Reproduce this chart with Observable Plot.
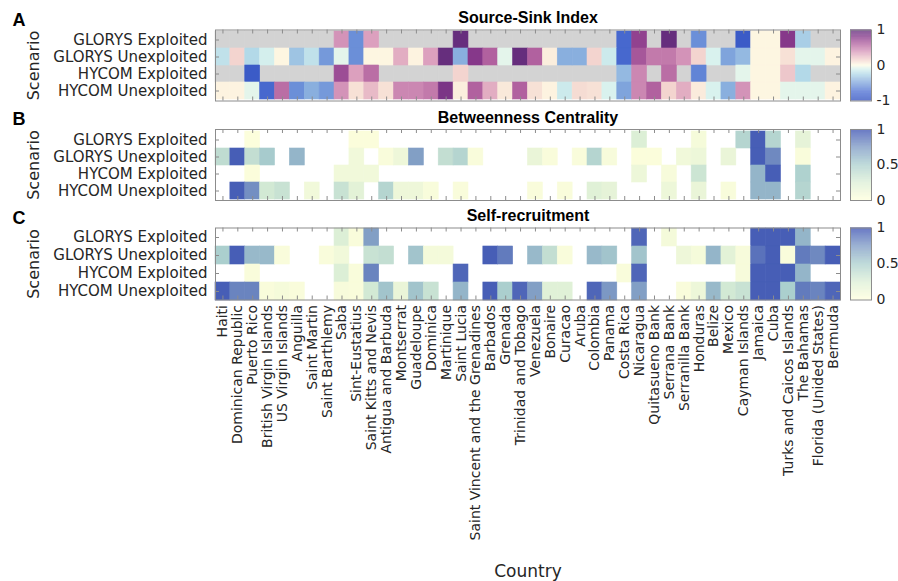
<!DOCTYPE html>
<html>
<head>
<meta charset="utf-8">
<script src="https://cdn.jsdelivr.net/npm/d3@7"></script>
<script src="https://cdn.jsdelivr.net/npm/@observablehq/plot@0.6"></script>
<style>
  body { margin: 0; background: #fff; }
  #chart { position: relative; width: 898px; height: 581px; overflow: hidden; font-family: "DejaVu Sans", sans-serif; }
  #chart svg { position: absolute; }
</style>
</head>
<body>
<div id="chart"></div>
<script>
// Countries along the x axis, west-to-east ordering used in the connectivity study
const countries = [
  "Haiti", "Dominican Republic", "Puerto Rico", "British Virgin Islands", "US Virgin Islands",
  "Anguilla", "Saint Martin", "Saint Barthlemy", "Saba", "Sint-Eustatius",
  "Saint Kitts and Nevis", "Antigua and Barbuda", "Montserrat", "Guadeloupe", "Dominica",
  "Martinique", "Saint Lucia", "Saint Vincent and the Grenadines", "Barbados", "Grenada",
  "Trinidad and Tobago", "Venezuela", "Bonaire", "Curacao", "Aruba",
  "Colombia", "Panama", "Costa Rica", "Nicaragua", "Quitasueno Bank",
  "Serrana Bank", "Serranilla Bank", "Honduras", "Belize", "Mexico",
  "Cayman Islands", "Jamaica", "Cuba", "Turks and Caicos Islands", "The Bahamas",
  "Florida (Unided States)", "Bermuda"
];

const scenarios = ["GLORYS Exploited", "GLORYS Unexploited", "HYCOM Exploited", "HYCOM Unexploited"];

const _ = null; // no value for this country / scenario

// A: Source-Sink Index (-1 sink … +1 source)
const sourceSinkGlorysExploited = [
  _, _, _, _, _, _, _, _, 0.4, -0.6, 0.35, _, _, _, _, _, 0.95, _, _, _, _,
  _, _, _, _, _, _, -0.8, 0.75, _, 0.95, _, -0.6, _, _, -0.9, 0.02, 0.02, 0.8, -0.3, _, _
];
const sourceSinkGlorysUnexploited = [
  -0.2, 0.15, -0.25, -0.12, 0.02, -0.35, -0.2, -0.55, -0.07, -0.6, 0.02, 0.02, 0.3, 0.03, 0.35, 0.95, -0.45, 0.8, 0.6, -0.07, 0.95,
  0.6, 0.05, -0.45, -0.45, 0.15, -0.15, -0.8, 0.65, 0.5, 0.5, 0.4, 0.15, -0.1, -0.5, -0.4, 0.02, 0.02, 0.1, -0.07, -0.07, 0.03
];
const sourceSinkHycomExploited = [
  _, _, -0.9, _, _, _, _, _, 0.7, 0.35, 0.55, _, _, _, _, _, 0.15, _, _, _, _,
  _, _, _, _, _, _, -0.4, 0.45, _, 0.55, _, -0.65, _, _, -0.07, 0.02, 0.02, 0.2, -0.25, _, _
];
const sourceSinkHycomUnexploited = [
  0.03, 0.03, -0.07, -0.8, 0.55, -0.6, -0.45, -0.55, 0.4, 0.1, 0.25, 0.1, 0.45, 0.45, 0.5, 0.85, 0.05, 0.6, 0.3, 0.07, 0.6,
  0.1, 0.03, -0.15, 0.12, 0.1, -0.1, -0.5, 0.45, 0.6, 0.15, 0.3, 0.06, -0.1, -0.45, 0.4, 0.02, 0.02, -0.07, -0.07, -0.07, 0.03
];

// B: Betweenness Centrality (0 … 1)
const betweennessGlorysExploited = [
  _, _, 0.02, _, _, _, _, _, _, 0.03, 0.03, _, _, _, _, _, _, _, _, _, _,
  _, _, _, _, _, _, _, 0.25, _, _, _, 0.07, _, _, 0.45, 0.95, 0.45, _, 0.18, _, _
];
const betweennessGlorysUnexploited = [
  0.4, 0.95, 0.38, 0.52, _, 0.62, _, _, _, 0.1, _, 0.04, 0.12, 0.72, _, 0.38, 0.45, 0.04, _, _, _,
  0.15, 0.04, _, 0.04, 0.45, 0.06, _, 0.03, 0.03, _, 0.1, 0.13, _, 0.15, _, 0.95, 0.8, _, 0.04, _, _
];
const betweennessHycomExploited = [
  _, _, 0.03, _, _, _, _, _, 0.1, 0.1, 0.1, _, _, _, _, _, _, _, _, _, _,
  _, _, _, _, _, _, _, 0.13, _, 0.06, _, 0.33, _, _, _, 0.62, 0.95, _, 0.48, _, _
];
const betweennessHycomUnexploited = [
  _, 0.95, 0.78, 0.3, 0.35, _, 0.1, _, 0.35, 0.2, _, 0.45, 0.12, 0.12, 0.05, _, 0.04, _, _, _, _,
  0.04, _, 0.04, _, 0.22, 0.18, _, _, _, 0.13, _, 0.15, _, 0.05, _, 0.62, 0.62, _, 0.45, _, _
];

// C: Self-recruitment (0 … 1)
const selfRecruitGlorysExploited = [
  _, _, _, _, _, _, _, _, 0.25, 0.04, 0.72, _, _, _, _, _, _, _, _, _, _,
  _, _, _, _, _, _, _, 0.92, _, 0.08, _, _, _, _, _, 0.95, 0.95, 0.95, 0.62, _, _
];
const selfRecruitGlorysUnexploited = [
  0.5, 0.95, 0.6, 0.6, 0.04, _, _, 0.04, 0.1, _, 0.35, 0.38, _, 0.55, 0.08, 0.08, _, _, 0.95, 0.85, _,
  0.6, 0.38, 0.04, _, 0.6, 0.55, _, 0.55, _, _, 0.12, 0.07, 0.62, 0.2, 0.06, 0.88, 0.95, 0.04, 0.85, 0.8, 0.95
];
const selfRecruitHycomExploited = [
  _, _, 0.04, _, _, _, _, _, 0.25, 0.04, 0.82, _, _, _, _, _, 0.92, _, _, _, _,
  _, _, _, _, _, _, 0.04, 0.92, _, _, _, _, _, _, 0.06, 0.95, 0.95, 0.95, 0.62, _, _
];
const selfRecruitHycomUnexploited = [
  0.95, 0.82, 0.82, 0.04, 0.07, 0.04, _, _, 0.06, 0.04, 0.3, 0.55, 0.15, 0.55, 0.35, _, 0.62, _, 0.95, 0.5, 0.92,
  0.72, 0.22, 0.22, _, 0.92, 0.75, _, 0.72, _, _, 0.04, 0.13, 0.6, 0.3, 0.35, 0.95, 0.95, 0.5, 0.85, 0.82, 0.92
];

// Colour maps
const divergingStops = [-1, -0.75, -0.5, -0.25, -0.1, 0, 0.15, 0.35, 0.6, 0.8, 1];
const divergingColors = ["#2f4ec0", "#4d6fd2", "#7fa4dc", "#b3d9e8", "#d9f2ee", "#fffbe4",
                         "#f3d4cf", "#dca0be", "#b1619f", "#86388a", "#5b2a78"];
const sequentialStops = [0, 0.25, 0.5, 0.75, 1];
const sequentialColors = ["#ffffdc", "#dcefd6", "#abcfce", "#7c98c4", "#3a4fb2"];
const missingColor = "#d3d3d3";

const ink = "#262626";
const boxColor = "#8c8c8c";
const LEFT = 215, RIGHT_EDGE = 840;
const chart = document.getElementById("chart");

function tidy(series) {
  return scenarios.flatMap((s, j) => countries.map((c, i) => ({scenario: s, country: c, value: series[j][i]})));
}

function panel({letter, title, series, color, missing, top, height, marginTop, marginBottom, showCountries}) {
  const rows = tidy(series);
  const plotH = height - marginTop - marginBottom;
  const plotW = RIGHT_EDGE - LEFT;
  const marks = [];
  if (missing) {
    marks.push(Plot.cell(rows.filter(d => d.value == null), {
      x: "country", y: "scenario", fill: missing, stroke: missing, strokeWidth: 0.6
    }));
  }
  marks.push(Plot.cell(rows.filter(d => d.value != null), {
    x: "country", y: "scenario", fill: "value", stroke: "value", strokeWidth: 0.6
  }));
  // inward tick marks on all four sides
  marks.push(Plot.ruleX(countries, {x: d => d, insetBottom: plotH - 4, stroke: boxColor}));
  marks.push(Plot.ruleX(countries, {x: d => d, insetTop: plotH - 4, stroke: boxColor}));
  marks.push(Plot.ruleY(scenarios, {y: d => d, insetRight: plotW - 4, stroke: boxColor}));
  marks.push(Plot.ruleY(scenarios, {y: d => d, insetLeft: plotW - 4, stroke: boxColor}));
  marks.push(Plot.frame({stroke: boxColor}));
  marks.push(Plot.axisY({anchor: "left", tickSize: 0, tickPadding: 8, fontSize: 15, fill: ink, label: null}));
  if (showCountries) {
    marks.push(Plot.axisX({anchor: "bottom", tickSize: 0, tickPadding: 5, tickRotate: -90, fontSize: 14, fill: ink, label: null}));
    marks.push(Plot.text(["Country"], {frameAnchor: "bottom", lineAnchor: "middle", dy: 272, fontSize: 17, fill: ink}));
  }
  marks.push(Plot.text([title], {frameAnchor: "top", lineAnchor: "middle", dy: -12, fontSize: 16, fontWeight: "bold",
    fontFamily: "Liberation Sans", fill: "#000"}));
  marks.push(Plot.text([letter], {frameAnchor: "top-left", lineAnchor: "middle", dx: -203, dy: -10, fontSize: 18,
    fontWeight: "bold", fontFamily: "Liberation Sans", fill: "#000"}));
  marks.push(Plot.text(["Scenario"], {frameAnchor: "left", textAnchor: "middle", lineAnchor: "middle",
    dx: -182, rotate: -90, fontSize: 16, fill: ink}));

  const svg = Plot.plot({
    width: 848, height, marginLeft: LEFT, marginRight: 848 - RIGHT_EDGE, marginTop, marginBottom,
    style: {fontFamily: "DejaVu Sans", background: "transparent", overflow: "visible"},
    x: {domain: countries, padding: 0, ...(showCountries ? {} : {axis: null})},
    y: {domain: scenarios, padding: 0},
    color,
    marks
  });
  svg.style.left = "0px";
  svg.style.top = top + "px";
  chart.appendChild(svg);
}

function colorbar({color, ticks, top, height, marginTop, marginBottom}) {
  const [lo, hi] = [color.domain[0], color.domain[color.domain.length - 1]];
  const n = 120, step = (hi - lo) / n;
  const slices = d3.range(n).map(i => lo + i * step);
  const svg = Plot.plot({
    width: 53, height, marginLeft: 5, marginRight: 27, marginTop, marginBottom,
    style: {fontFamily: "DejaVu Sans", background: "transparent", overflow: "visible"},
    x: {domain: [0, 1], axis: null},
    y: {domain: [lo, hi], axis: null},
    color,
    marks: [
      Plot.rect(slices, {x1: 0, x2: 1, y1: d => d, y2: d => d + step * 1.02, fill: d => d + step / 2}),
      Plot.frame({stroke: boxColor}),
      Plot.axisY({anchor: "right", ticks, tickSize: 0, tickPadding: 5, fontSize: 14, fill: ink, label: null,
        tickFormat: d => String(d)})
    ]
  });
  svg.style.left = "845px";
  svg.style.top = top + "px";
  chart.appendChild(svg);
}

const divergingScale = {type: "linear", domain: divergingStops, range: divergingColors, clamp: true};
const sequentialScale = {type: "linear", domain: sequentialStops, range: sequentialColors, clamp: true};

const layout = [
  {letter: "A", title: "Source-Sink Index", color: divergingScale, missing: missingColor,
   series: [sourceSinkGlorysExploited, sourceSinkGlorysUnexploited, sourceSinkHycomExploited, sourceSinkHycomUnexploited],
   top: 0, height: 110, marginTop: 29.5, marginBottom: 9.5, ticks: [-1, 0, 1]},
  {letter: "B", title: "Betweenness Centrality", color: sequentialScale, missing: null,
   series: [betweennessGlorysExploited, betweennessGlorysUnexploited, betweennessHycomExploited, betweennessHycomUnexploited],
   top: 110, height: 98, marginTop: 19, marginBottom: 8, ticks: [0, 0.5, 1]},
  {letter: "C", title: "Self-recruitment", color: sequentialScale, missing: null,
   series: [selfRecruitGlorysExploited, selfRecruitGlorysUnexploited, selfRecruitHycomExploited, selfRecruitHycomUnexploited],
   top: 208, height: 373, marginTop: 19.5, marginBottom: 281.5, ticks: [0, 0.5, 1], showCountries: true}
];

for (const p of layout) {
  panel(p);
  colorbar(p);
}
</script>
</body>
</html>
